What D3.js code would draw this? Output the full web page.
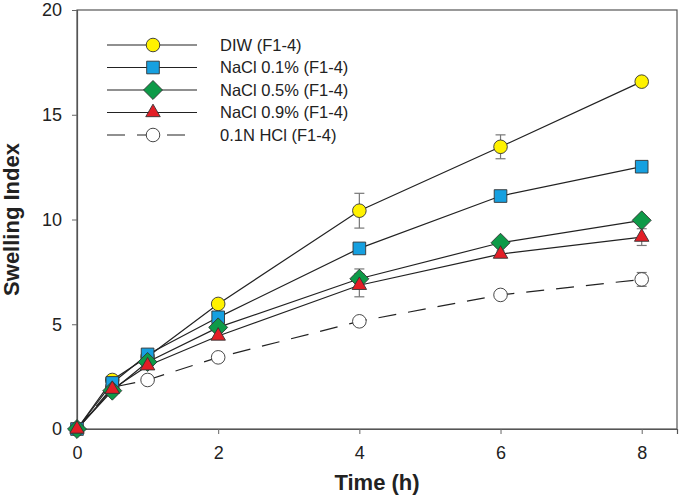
<!DOCTYPE html>
<html>
<head>
<meta charset="utf-8">
<script src="https://cdn.jsdelivr.net/npm/d3@7"></script>
<style>
  body { margin: 0; background: #fff; }
  text { font-family: Arial, 'Liberation Sans', sans-serif; }
</style>
</head>
<body>
<div class="canvas"></div>
<script>
// time points (h)
const times = [0, 0.5, 1, 2, 4, 6, 8];

const seriesNames = ['DIW (F1-4)', 'NaCl 0.1% (F1-4)', 'NaCl 0.5% (F1-4)', 'NaCl 0.9% (F1-4)', '0.1N HCl (F1-4)'];

const diw     = [0, 2.34, 3.45, 5.97, 10.42, 13.47, 16.58];
const nacl01  = [0, 2.2, 3.56, 5.33, 8.62, 11.12, 12.52];
const nacl05  = [0, 1.83, 3.2, 4.85, 7.17, 8.89, 9.96];
const nacl09  = [0, 1.9, 3.02, 4.44, 6.86, 8.35, 9.16];
const hcl     = [0, 1.99, 2.34, 3.42, 5.14, 6.4, 7.14];

// standard deviations
const diwErr    = [0, 0.1, 0.1, 0.15, 0.83, 0.57, 0.15];
const nacl01Err = [0, 0.1, 0.1, 0.1, 0.15, 0.1, 0.25];
const nacl05Err = [0, 0.1, 0.1, 0.1, 0.47, 0.15, 0.15];
const nacl09Err = [0, 0.1, 0.1, 0.1, 0.55, 0.15, 0.4];
const hclErr    = [0, 0.05, 0.05, 0.1, 0.1, 0.1, 0.33];

const xTicks = [0, 2, 4, 6, 8];
const yTicks = [0, 5, 10, 15, 20];

const styles = [
    {fill: '#fff200', shape: 'circle', dash: null},
    {fill: '#16a0e0', shape: 'square', dash: null},
    {fill: '#0e9a48', shape: 'diamond', dash: null},
    {fill: '#e31e26', shape: 'triangle', dash: null},
    {fill: '#ffffff', shape: 'circle', dash: '18,12'}
];

const series = [
    {values: diw, err: diwErr},
    {values: nacl01, err: nacl01Err},
    {values: nacl05, err: nacl05Err},
    {values: nacl09, err: nacl09Err},
    {values: hcl, err: hclErr}
].map((s, i) => ({...s, name: seriesNames[i], ...styles[i]}));

// HCl drawn underneath the others
const drawOrder = [series[4], series[0], series[1], series[2], series[3]];

const dims = {width: 680, height: 502};
const margin = {top: 10, right: 3, bottom: 73, left: 77};

const svg = d3.select('.canvas')
    .append('svg')
    .attr('width', dims.width)
    .attr('height', dims.height);

const x = d3.scaleLinear()
    .domain([0, 8.5])
    .range([margin.left, dims.width - margin.right]);

const y = d3.scaleLinear()
    .domain([0, 20])
    .range([dims.height - margin.bottom, margin.top]);

const symbolFor = shape => {
    if (shape === 'circle') return d3.symbol().type(d3.symbolCircle).size(145);
    if (shape === 'square') return d3.symbol().type(d3.symbolSquare).size(160);
    if (shape === 'diamond') return d3.symbol().type(d3.symbolDiamond2).size(230);
    return d3.symbol().type(d3.symbolTriangle2).size(150);
};

// frame
svg.append('rect')
    .attr('x', x(0))
    .attr('y', y(20))
    .attr('width', x(8.5) - x(0))
    .attr('height', y(0) - y(20))
    .attr('fill', 'none')
    .attr('stroke', '#555')
    .attr('stroke-width', 1.2);

// axes
const xAxis = svg.append('g')
    .attr('transform', `translate(0, ${y(0)})`)
    .call(d3.axisBottom(x).tickValues(xTicks).tickSize(5).tickPadding(12));

const yAxis = svg.append('g')
    .attr('transform', `translate(${x(0)}, 0)`)
    .call(d3.axisLeft(y).tickValues(yTicks).tickSize(5).tickPadding(10));

[xAxis, yAxis].forEach(a => {
    a.select('.domain').attr('stroke', '#555').attr('stroke-width', 1.2);
    a.selectAll('.tick line').attr('stroke', '#666');
    a.selectAll('.tick text')
        .attr('fill', '#222')
        .style('font-size', '18px')
        .style('font-family', "Arial, 'Liberation Sans', sans-serif");
});

// axis titles
svg.append('text')
    .attr('x', (x(0) + x(8.5)) / 2)
    .attr('y', 490)
    .attr('text-anchor', 'middle')
    .attr('font-size', 22)
    .attr('font-weight', 'bold')
    .attr('fill', '#222')
    .text('Time (h)');

svg.append('text')
    .attr('transform', `translate(19, ${(y(0) + y(20)) / 2}) rotate(-90)`)
    .attr('text-anchor', 'middle')
    .attr('font-size', 22)
    .attr('font-weight', 'bold')
    .attr('fill', '#222')
    .text('Swelling Index');

const line = d3.line()
    .x((d, i) => x(times[i]))
    .y(d => y(d));

// lines
svg.selectAll('.series-line')
    .data(drawOrder)
    .enter()
    .append('path')
    .attr('class', 'series-line')
    .attr('fill', 'none')
    .attr('stroke', '#222')
    .attr('stroke-width', 1.2)
    .attr('stroke-dasharray', d => d.dash)
    .attr('d', d => line(d.values));

// error bars
drawOrder.forEach(s => {
    const g = svg.append('g').attr('stroke', '#777').attr('stroke-width', 1.2);
    s.values.forEach((v, i) => {
        const e = s.err[i];
        if (!e) return;
        const cx = x(times[i]);
        const cap = e > 0.2 ? 5 : 4;
        g.append('line').attr('x1', cx).attr('x2', cx).attr('y1', y(v - e)).attr('y2', y(v + e));
        g.append('line').attr('x1', cx - cap).attr('x2', cx + cap).attr('y1', y(v - e)).attr('y2', y(v - e));
        g.append('line').attr('x1', cx - cap).attr('x2', cx + cap).attr('y1', y(v + e)).attr('y2', y(v + e));
    });
});

// markers
drawOrder.forEach(s => {
    svg.append('g')
        .selectAll('path')
        .data(s.values)
        .enter()
        .append('path')
        .attr('d', symbolFor(s.shape))
        .attr('transform', (d, i) => `translate(${x(times[i])}, ${y(d)})`)
        .attr('fill', s.fill)
        .attr('stroke', '#333')
        .attr('stroke-width', 0.9);
});

// legend
const legend = svg.append('g')
    .selectAll('.legend')
    .data(series)
    .enter()
    .append('g')
    .attr('class', 'legend')
    .attr('transform', (d, i) => `translate(107, ${45 + i * 22.5})`);

legend.append('line')
    .attr('x1', 0)
    .attr('x2', 90)
    .attr('stroke', '#222')
    .attr('stroke-width', 1.2)
    .attr('stroke-dasharray', d => d.dash);

legend.append('path')
    .attr('d', d => symbolFor(d.shape)())
    .attr('transform', 'translate(46, 0)')
    .attr('fill', d => d.fill)
    .attr('stroke', '#333')
    .attr('stroke-width', 0.9);

legend.append('text')
    .attr('x', 113)
    .attr('dy', '0.36em')
    .attr('font-size', 16.5)
    .attr('fill', '#222')
    .text(d => d.name);
</script>
</body>
</html>
